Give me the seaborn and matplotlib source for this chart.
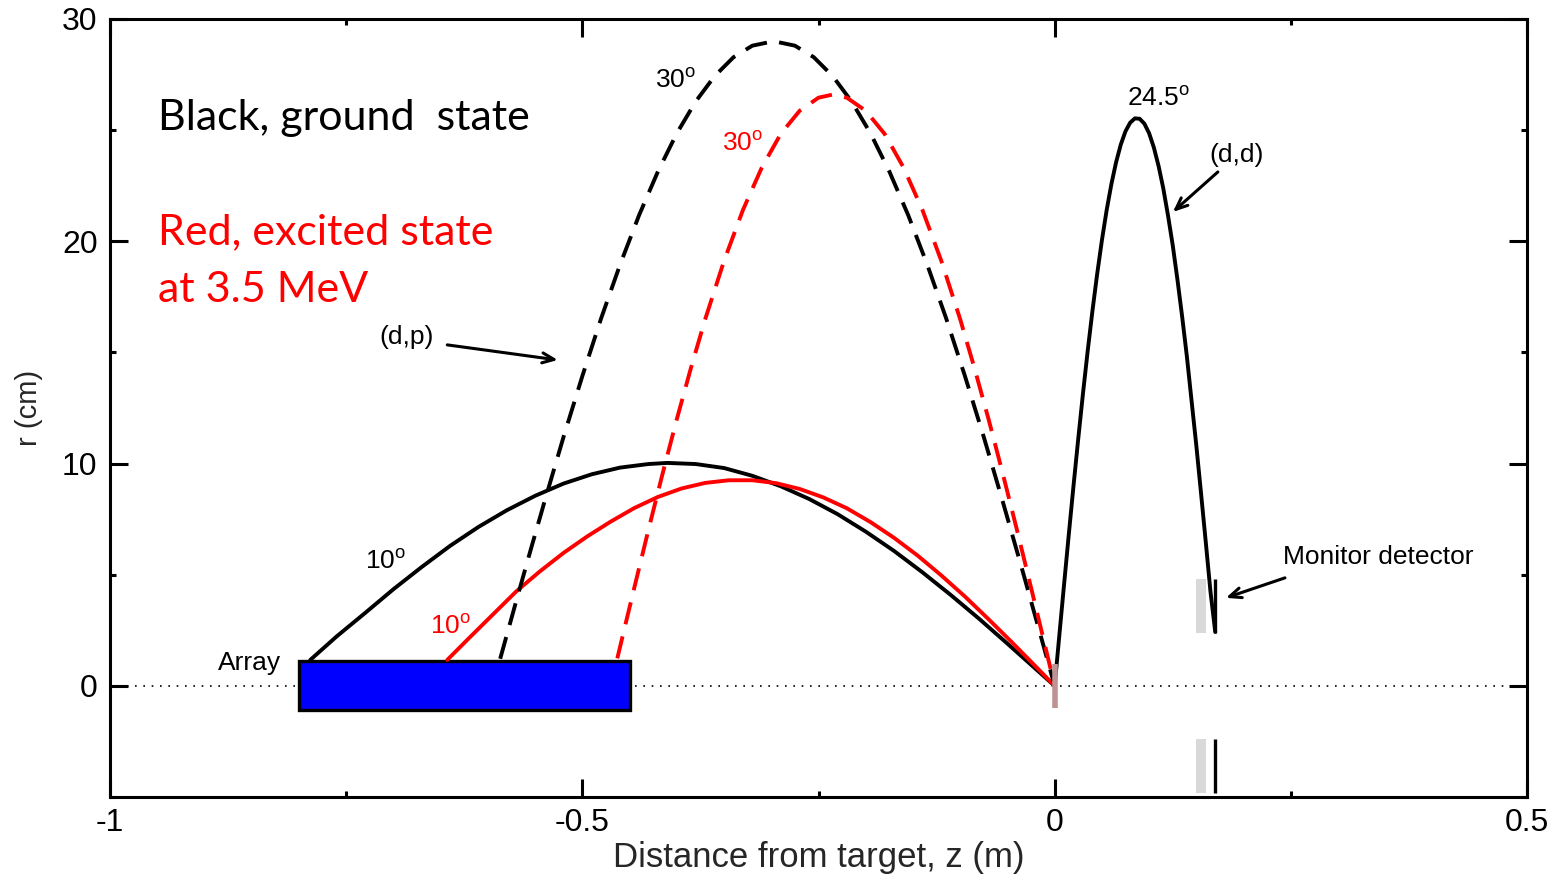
import matplotlib
matplotlib.use("Agg")
import matplotlib.pyplot as plt
import seaborn as sns
from matplotlib.patches import Rectangle
from matplotlib.ticker import MultipleLocator

# ---- trajectory data: z in m, r in cm ----
# (d,p) ground state, 10 degrees
gs10_z = [-0.788, -0.760, -0.730, -0.700, -0.670, -0.640, -0.610, -0.580, -0.550,
          -0.520, -0.490, -0.460, -0.430, -0.410, -0.380, -0.350, -0.320, -0.290,
          -0.260, -0.230, -0.200, -0.170, -0.140, -0.110, -0.080, -0.050, -0.025, 0.0]
gs10_r = [1.17, 2.23, 3.28, 4.35, 5.35, 6.30, 7.15, 7.90, 8.55,
          9.10, 9.52, 9.82, 9.98, 10.03, 9.98, 9.80, 9.45, 8.98,
          8.41, 7.73, 6.94, 6.07, 5.11, 4.09, 3.02, 1.90, 0.95, 0.0]
# (d,p) excited state 3.5 MeV, 10 degrees
ex10_z = [-0.643, -0.620, -0.595, -0.570, -0.545, -0.520, -0.495, -0.470, -0.445,
          -0.420, -0.395, -0.370, -0.345, -0.320, -0.295, -0.270, -0.245, -0.220,
          -0.195, -0.170, -0.145, -0.120, -0.095, -0.070, -0.045, -0.020, 0.0]
ex10_r = [1.17, 2.15, 3.20, 4.25, 5.15, 5.98, 6.72, 7.39, 8.00,
          8.50, 8.88, 9.13, 9.25, 9.25, 9.12, 8.86, 8.48, 7.99,
          7.37, 6.66, 5.86, 4.97, 4.02, 3.00, 1.95, 0.87, 0.0]
# (d,p) ground state, 30 degrees
gs30_z = [-0.587, -0.580, -0.570, -0.555, -0.540, -0.520, -0.500, -0.480, -0.460,
          -0.440, -0.420, -0.400, -0.380, -0.360, -0.340, -0.320, -0.2975, -0.275,
          -0.255, -0.235, -0.215, -0.195, -0.175, -0.155, -0.135, -0.115, -0.095,
          -0.075, -0.055, -0.035, -0.015, 0.0]
gs30_r = [1.22, 2.29, 3.82, 6.08, 8.30, 11.19, 13.94, 16.55, 18.96,
          21.17, 23.14, 24.86, 26.29, 27.43, 28.28, 28.80, 29.00, 28.80,
          28.28, 27.43, 26.29, 24.86, 23.14, 21.17, 18.96, 16.55, 13.94,
          11.19, 8.30, 5.33, 2.29, 0.0]
# (d,p) excited state 3.5 MeV, 30 degrees
ex30_z = [-0.463, -0.455, -0.445, -0.430, -0.415, -0.400, -0.385, -0.370, -0.350,
          -0.330, -0.310, -0.290, -0.270, -0.250, -0.235, -0.220, -0.200, -0.180,
          -0.160, -0.140, -0.120, -0.100, -0.085, -0.070, -0.055, -0.040, -0.025,
          -0.010, 0.0]
ex30_r = [1.24, 2.66, 4.42, 7.03, 9.56, 12.00, 14.31, 16.49, 19.12,
          21.41, 23.32, 24.83, 25.87, 26.46, 26.60, 26.46, 25.87, 24.83,
          23.32, 21.41, 19.12, 16.49, 14.31, 12.00, 9.56, 7.03, 4.42,
          1.78, 0.0]
# (d,d) elastic, 24.5 degrees
dd_z = [0.000, 0.005, 0.010, 0.015, 0.020, 0.025, 0.030, 0.035, 0.040, 0.045,
        0.050, 0.055, 0.060, 0.065, 0.070, 0.075, 0.080, 0.085, 0.090, 0.095,
        0.100, 0.105, 0.110, 0.115, 0.120, 0.125, 0.130, 0.135, 0.140, 0.145,
        0.150, 0.155, 0.160, 0.165, 0.170]
dd_r = [0.00, 2.30, 4.58, 6.83, 9.02, 11.13, 13.16, 15.08, 16.87, 18.53,
        20.04, 21.39, 22.56, 23.55, 24.35, 24.95, 25.34, 25.53, 25.51, 25.29,
        24.86, 24.22, 23.39, 22.38, 21.16, 19.82, 18.27, 16.60, 14.81, 12.80,
        10.80, 8.65, 6.46, 4.22, 2.43]

# detector geometry
array_z = [-0.800, -0.450]
array_r = [-1.1, 1.1]
monitor_z = 0.170
monitor_r = [2.4, 4.8]
monitor_frame_z = [0.150, 0.160]
target_r = [-1.0, 1.0]

sns.set_theme(style="ticks")
plt.rcParams['font.family'] = ['Liberation Sans', 'DejaVu Sans']
plt.rcParams['mathtext.fontset'] = 'custom'
plt.rcParams['mathtext.rm'] = 'Liberation Sans'
plt.rcParams['mathtext.it'] = 'Liberation Sans'

fig = plt.figure(figsize=(15.57, 8.75), dpi=100)
ax = fig.add_axes([0.0707, 0.0891, 0.9100, 0.8892])

LW = 2.8
DASH = (5.8, 3.2)

# beam axis
ax.axhline(0, color='black', lw=1.2, ls=(0, (1, 4)), zorder=1)

# array
ax.add_patch(Rectangle((array_z[0], array_r[0]), array_z[1] - array_z[0],
                       array_r[1] - array_r[0], facecolor='#0000ff',
                       edgecolor='black', lw=2.4, zorder=2))

# monitor detector (shown at +r and -r)
for sgn in (1, -1):
    lo, hi = sorted([sgn * monitor_r[0], sgn * monitor_r[1]])
    ax.fill_between(monitor_frame_z, [lo, lo], [hi, hi], color='#d9d9d9', lw=0, zorder=2)
    ax.plot([monitor_z, monitor_z], [lo, hi], color='black', lw=2.4, zorder=3,
            solid_capstyle='butt')

# target
ax.plot([0, 0], target_r, color='#c09393', lw=4, zorder=5, solid_capstyle='butt')

kw = dict(ax=ax, sort=False, estimator=None, legend=False, linewidth=LW, zorder=4)
sns.lineplot(x=gs10_z, y=gs10_r, color='black', **kw)
sns.lineplot(x=ex10_z, y=ex10_r, color='#ff0000', **kw)
l1 = sns.lineplot(x=gs30_z, y=gs30_r, color='black', **kw).lines[-1]
l1.set_dashes(DASH)
l2 = sns.lineplot(x=ex30_z, y=ex30_r, color='#ff0000', **kw).lines[-1]
l2.set_dashes(DASH)
sns.lineplot(x=dd_z, y=dd_r, color='black', **kw)

# axes styling
ax.set_xlim(-1, 0.5)
ax.set_ylim(-5, 30)
ax.xaxis.set_major_locator(MultipleLocator(0.5))
ax.xaxis.set_minor_locator(MultipleLocator(0.25))
ax.yaxis.set_major_locator(MultipleLocator(10))
ax.yaxis.set_minor_locator(MultipleLocator(5))
ax.xaxis.set_major_formatter(plt.FuncFormatter(lambda v, p: f"{v:g}"))
ax.tick_params(which='both', direction='in', top=True, right=True,
               color='black', width=2.2, labelsize=23, labelcolor='black')
ax.tick_params(which='major', length=13)
ax.tick_params(which='minor', length=4)
ax.tick_params(axis='x', which='major', pad=8)
ax.tick_params(axis='y', which='major', pad=9)
for s in ax.spines.values():
    s.set_linewidth(2.2)
    s.set_color('black')
ax.set_xlabel('Distance from target, z (m)', fontsize=25, labelpad=2)
ax.set_ylabel('r (cm)', fontsize=21, labelpad=14)

# annotations
big = dict(family=['Lato', 'DejaVu Sans'], fontsize=31, ha='left', va='center')
ax.text(-0.949, 25.55, 'Black, ground  state', color='black', **big)
ax.text(-0.949, 20.4, 'Red, excited state', color='#ff0000', **big)
ax.text(-0.949, 17.8, 'at 3.5 MeV', color='#ff0000', **big)

small = dict(fontsize=19, ha='left', va='center')
ax.text(-0.423, 27.2, r'30$^{\rm o}$', color='black', **small)
ax.text(-0.352, 24.4, r'30$^{\rm o}$', color='#ff0000', **small)
ax.text(0.0765, 26.4, r'24.5$^{\rm o}$', color='black', **small)
ax.text(0.164, 23.9, '(d,d)', color='black', **small)
ax.text(-0.715, 15.7, '(d,p)', color='black', **small)
ax.text(-0.730, 5.58, r'10$^{\rm o}$', color='black', **small)
ax.text(-0.661, 2.65, r'10$^{\rm o}$', color='#ff0000', **small)
ax.text(-0.886, 1.03, 'Array', color='black', **small)
ax.text(0.2417, 5.80, 'Monitor detector', color='black', **small)

arr = dict(arrowstyle='->,head_length=0.7,head_width=0.3', color='black', lw=2.2,
           shrinkA=0, shrinkB=0)
ax.annotate('', xy=(-0.526, 14.66), xytext=(-0.643, 15.34), arrowprops=arr)
ax.annotate('', xy=(0.1252, 21.32), xytext=(0.1728, 23.12), arrowprops=arr)
ax.annotate('', xy=(0.1813, 3.96), xytext=(0.2438, 4.86), arrowprops=arr)

fig.savefig('out.png', dpi=100)
